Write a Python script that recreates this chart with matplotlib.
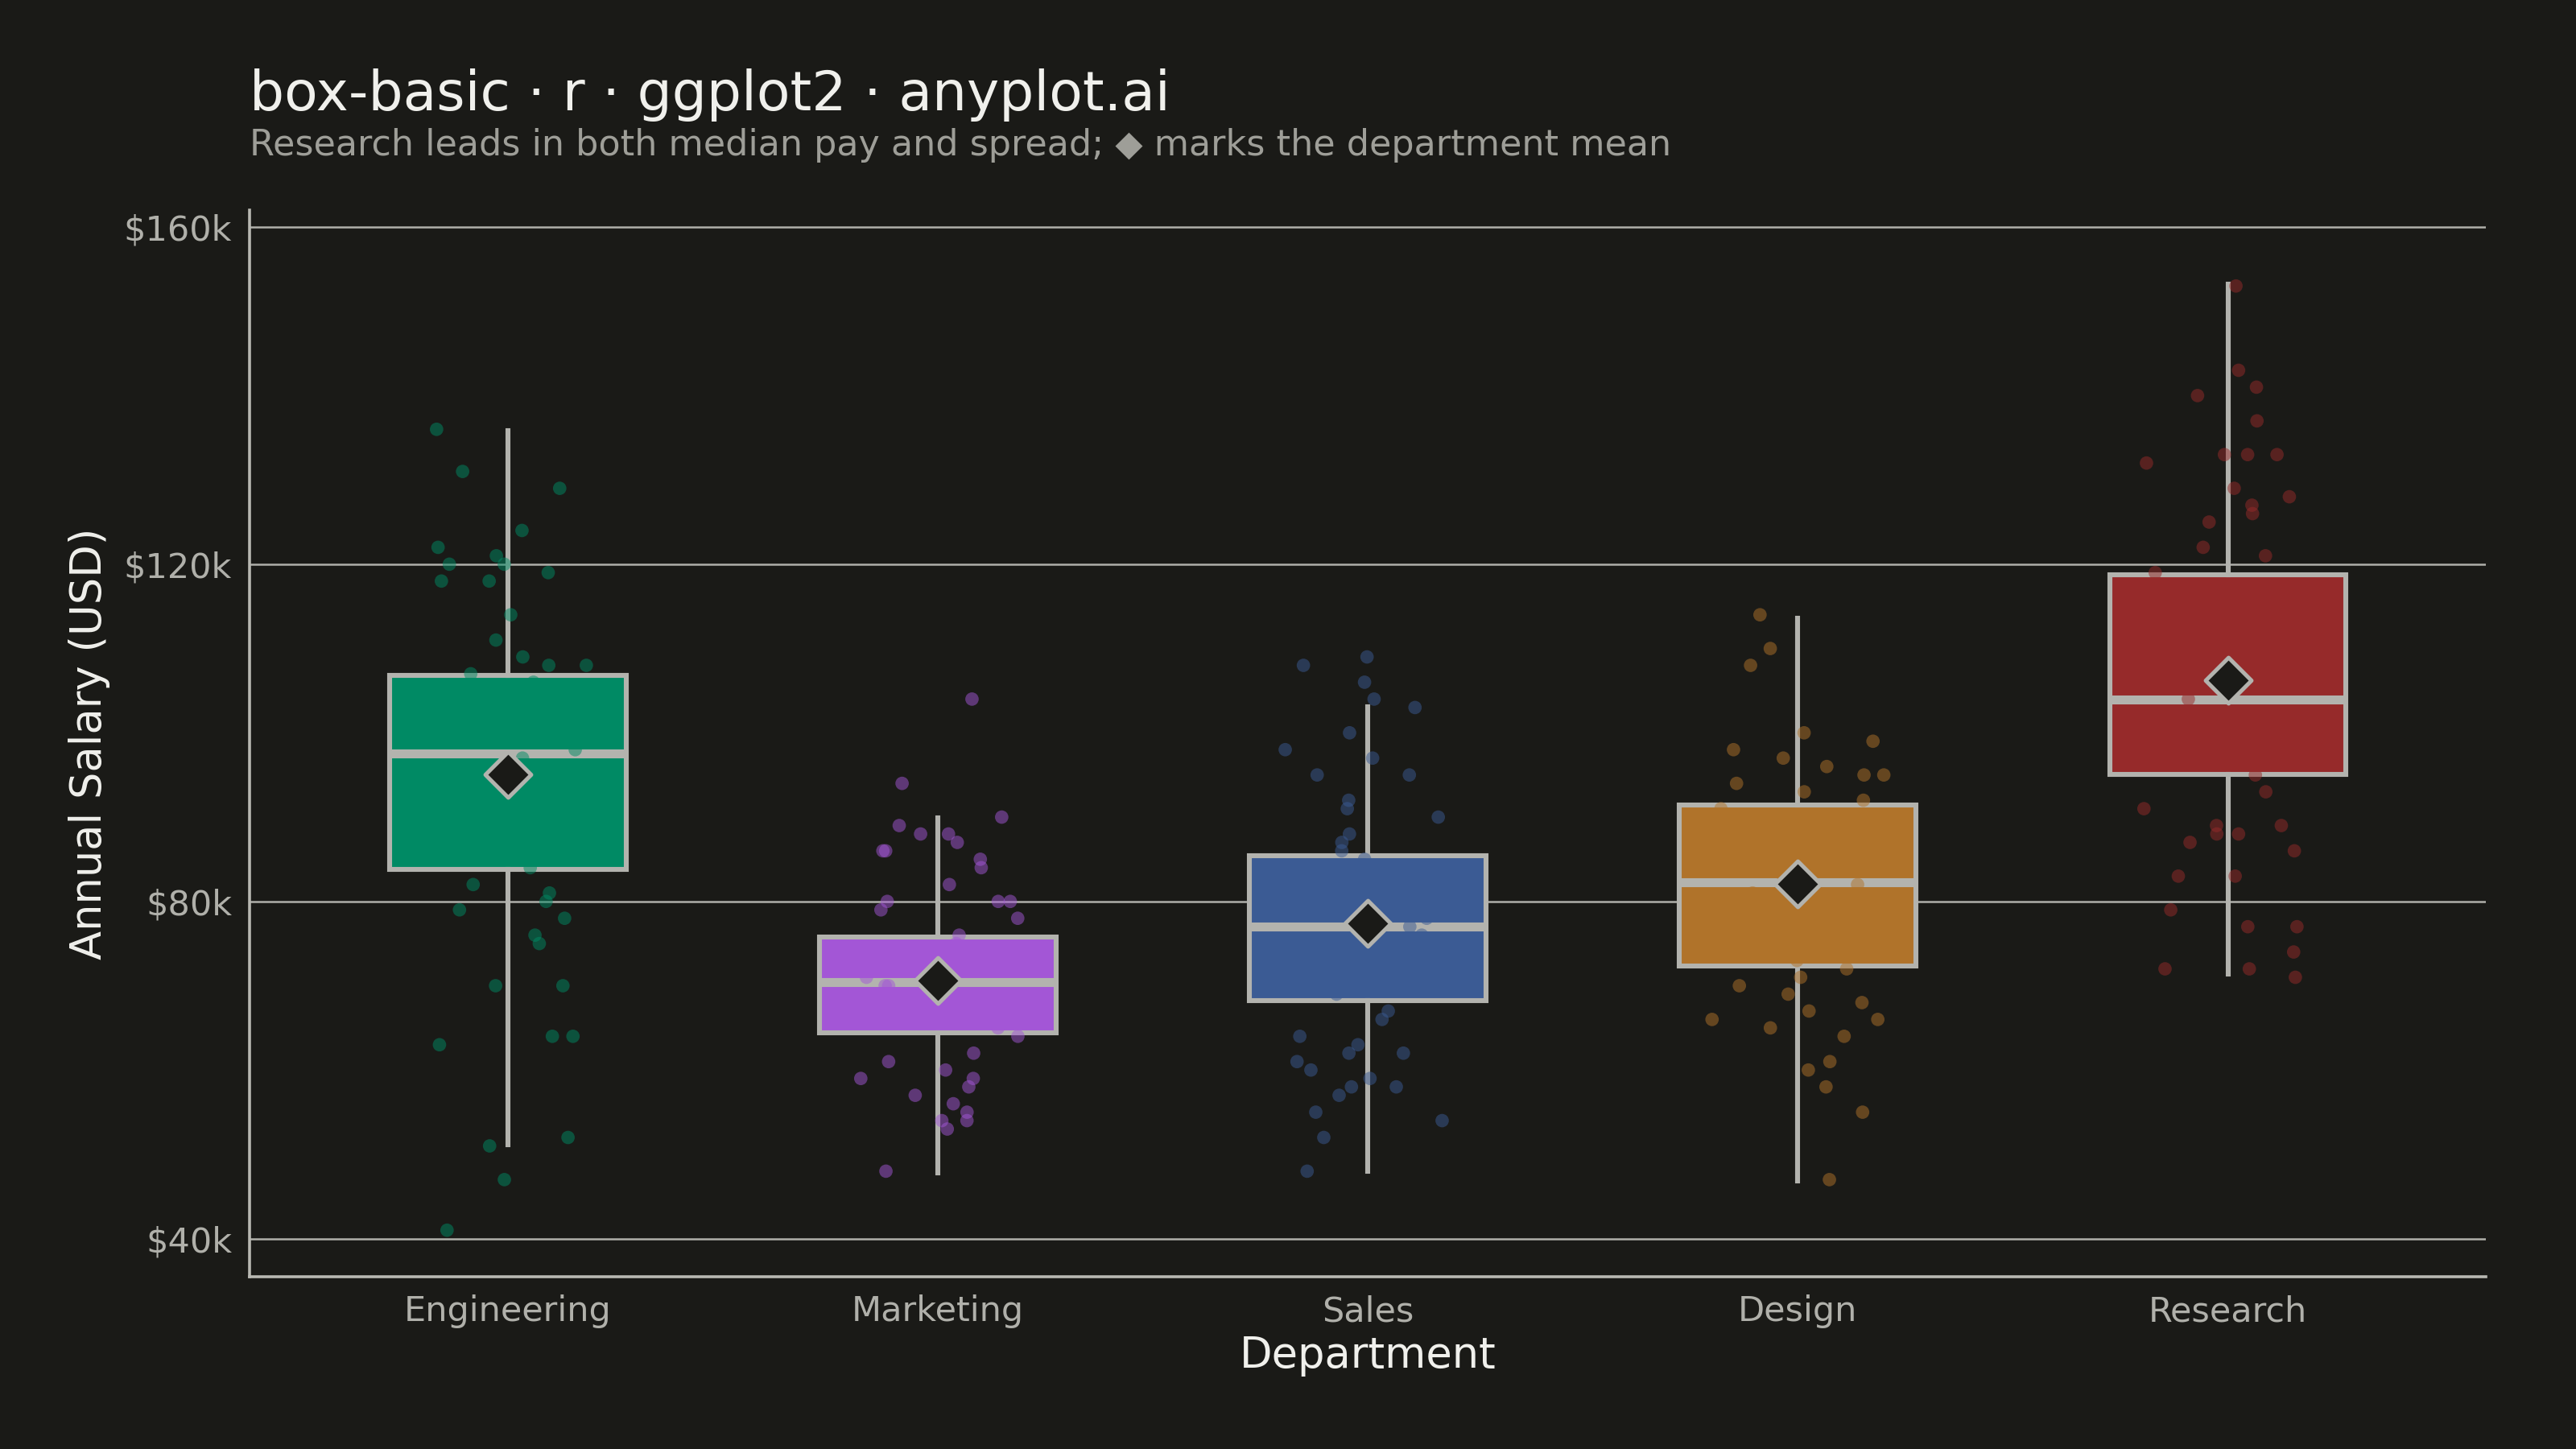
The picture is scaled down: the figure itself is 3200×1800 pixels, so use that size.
import numpy as np
import matplotlib.pyplot as plt

departments = ["Engineering", "Marketing", "Sales", "Design", "Research"]
colors = ["#008A64", "#A356D6", "#3B5B94", "#B0732A", "#962A2A"]

# box stats (k USD)
whisker_low = [51.1, 47.8, 48.0, 46.8, 71.4]
q1 = [83.8, 64.4, 68.2, 72.3, 95.1]
median = [97.5, 70.4, 77.0, 82.3, 103.9]
q3 = [106.8, 75.8, 85.4, 91.4, 118.7]
whisker_high = [135.8, 89.9, 103.1, 113.6, 153.2]
means = [95.1, 70.6, 77.4, 82.1, 106.2]

salaries = {
    "Engineering": [136, 131, 129, 124, 122, 121, 120, 120, 119, 118, 118, 114, 111, 109, 108, 108, 107, 106,
                    104, 103, 102, 101, 100, 99, 98, 97, 96, 95, 94, 92, 90, 89, 88, 87, 86, 84, 82, 81, 80,
                    79, 78, 76, 75, 70, 70, 64, 64, 63, 52, 51, 47, 41],
    "Marketing": [104, 94, 90, 89, 88, 88, 87, 86, 86, 85, 84, 82, 80, 80, 80, 79, 78, 76, 75, 74, 74, 73, 72,
                  72, 71, 70, 70, 69, 68, 67, 66, 65, 64, 62, 61, 60, 59, 59, 58, 57, 56, 55, 54, 54, 53, 48],
    "Sales": [109, 108, 106, 104, 103, 100, 98, 97, 95, 95, 92, 91, 90, 88, 87, 86, 85, 84, 83, 82, 81, 80, 79,
              78, 77, 76, 75, 74, 73, 72, 71, 70, 69, 67, 66, 64, 63, 62, 62, 61, 60, 59, 58, 58, 57, 55, 54,
              52, 48],
    "Design": [114, 110, 108, 100, 99, 98, 97, 96, 95, 95, 94, 93, 92, 91, 90, 89, 88, 87, 86, 85, 84, 83, 82,
               81, 80, 79, 78, 77, 76, 75, 74, 73, 72, 71, 70, 69, 68, 67, 66, 66, 65, 64, 61, 60, 58, 55, 47],
    "Research": [153, 143, 141, 140, 137, 133, 133, 133, 132, 129, 128, 127, 126, 125, 122, 121, 119, 117, 115,
                 114, 112, 110, 108, 106, 104, 102, 100, 99, 97, 95, 93, 91, 89, 89, 88, 88, 87, 86, 83, 83, 79,
                 77, 77, 74, 72, 72, 71],
}

bg = "#1A1A17"
edge = "#B3B3AE"

fig = plt.figure(figsize=(16, 9), dpi=200, facecolor=bg)
ax = fig.add_axes([0.097, 0.119, 0.868, 0.736], facecolor=bg)

stats = []
for i, d in enumerate(departments):
    stats.append(dict(whislo=whisker_low[i], q1=q1[i], med=median[i], q3=q3[i],
                      whishi=whisker_high[i], fliers=[], label=d))

bp = ax.bxp(stats, positions=range(len(departments)), widths=0.55, patch_artist=True,
            showcaps=False, zorder=3,
            boxprops=dict(edgecolor=edge, linewidth=2.2),
            medianprops=dict(color=edge, linewidth=4),
            whiskerprops=dict(color=edge, linewidth=2.2))
for patch, c in zip(bp["boxes"], colors):
    patch.set_facecolor(c)

# jitter only for horizontal spread of points
rng = np.random.default_rng(3)
for i, d in enumerate(departments):
    y = np.array(salaries[d])
    x = i + rng.uniform(-0.2, 0.2, len(y))
    ax.scatter(x, y, s=36, color=colors[i], alpha=0.5, edgecolors="none", zorder=4)

ax.scatter(range(len(departments)), means, marker="D", s=210, color="#1A1A17",
           edgecolors=edge, linewidths=1.8, zorder=5)

ax.set_ylim(35.5, 162)
ax.set_xlim(-0.6, 4.6)
ax.set_yticks([40, 80, 120, 160])
ax.set_yticklabels(["$40k", "$80k", "$120k", "$160k"])
ax.yaxis.grid(True, color="#B0B0AA", linewidth=0.9, zorder=0)
ax.set_axisbelow(True)
ax.tick_params(colors="#B0B0AA", labelsize=15.5, length=0, pad=8)
for s in ["top", "right"]:
    ax.spines[s].set_visible(False)
for s in ["left", "bottom"]:
    ax.spines[s].set_color("#B8B8B2")
    ax.spines[s].set_linewidth(1.3)

ax.set_xlabel("Department", color="#F0F0EC", fontsize=19, labelpad=3)
ax.set_ylabel("Annual Salary (USD)", color="#F0F0EC", fontsize=19, labelpad=6)

fig.text(0.097, 0.924, "box-basic · r · ggplot2 · anyplot.ai", color="#F0F0EC", fontsize=24.5, va="baseline")
fig.text(0.097, 0.893, "Research leads in both median pay and spread; ◆ marks the department mean",
         color="#9E9E98", fontsize=16, va="baseline")

fig.savefig("out.png", dpi=200, facecolor=bg)
